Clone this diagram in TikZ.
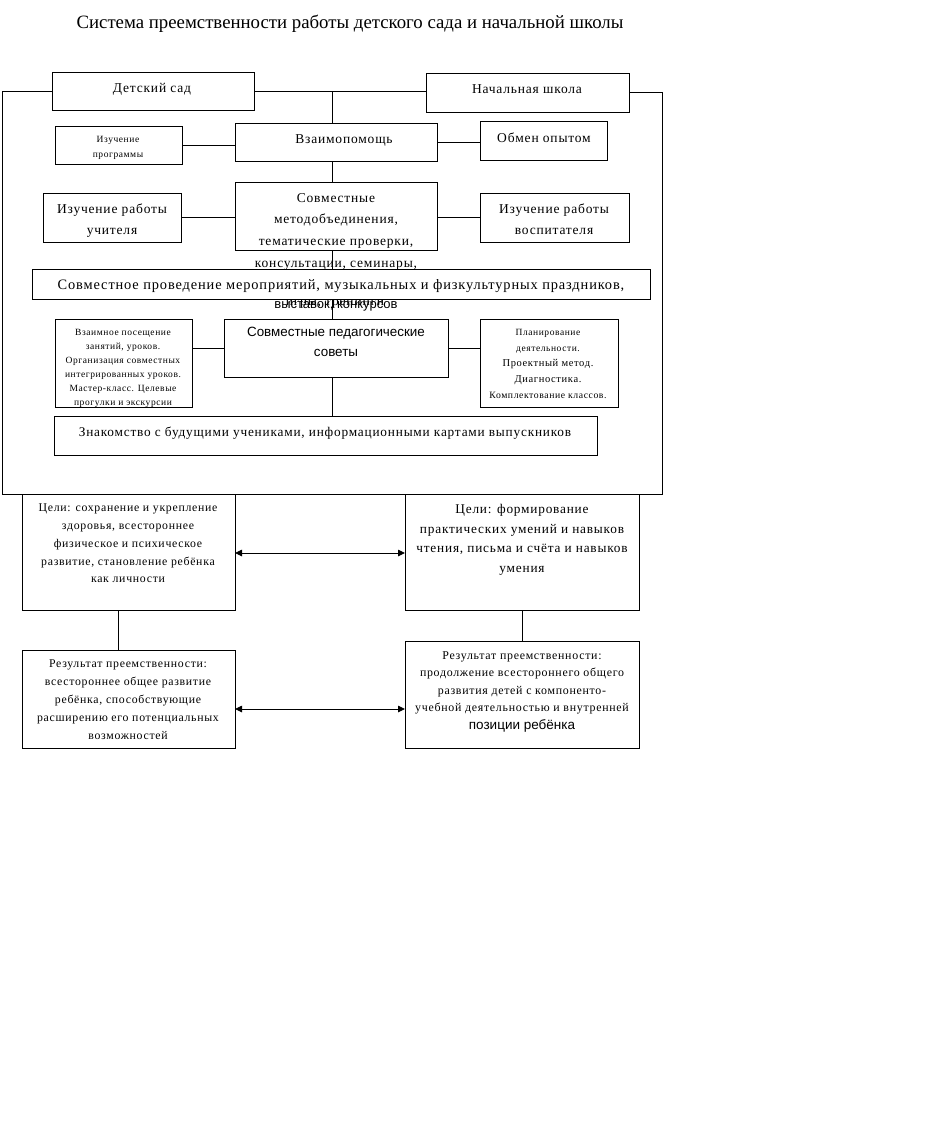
\documentclass[tikz,border=0pt]{standalone}
\usepackage{fontspec}
\setmainfont{Liberation Serif}[LetterSpace=6]
\newfontfamily\sansf{Liberation Sans}
\newfontfamily\titlef{Liberation Serif}
\usetikzlibrary{arrows.meta}
\newcommand\fs[2]{\fontsize{#1}{#2}\selectfont}
\newcommand\mkbox[5]{%
  \node[bx, minimum width={#4-#2}, minimum height={#5-#3}] (#1) at ({(#2+#4)/2},{(#3+#5)/2}) {};}
\begin{document}
\begin{tikzpicture}[x=1pt,y=-1pt,
  bx/.style={draw, line width=0.9pt, fill=white, inner sep=0pt, outer sep=0pt},
  tx/.style={inner sep=0pt, align=center},
  ml/.style={inner sep=0pt, align=center, anchor=north},
  ln/.style={line width=0.9pt},
  arr/.style={line width=0.9pt, {Triangle[length=7pt,width=6.5pt]}-{Triangle[length=7pt,width=6.5pt]}}]
\fill[white] (0,0) rectangle (939,1141);
\useasboundingbox (0,0) rectangle (939,1141);

\node[tx, font=\titlef\fs{18.8}{22}] (title) at (350,24) {Система преемственности работы детского сада и начальной школы};

\coordinate (spine) at (332,0);
\coordinate (L) at (2,0);
\coordinate (R) at (662,0);
\coordinate (B) at (0,494);
\coordinate (vl) at (118,0);
\coordinate (ay1) at (0,553);
\coordinate (ay2) at (0,709);

% frame lines
\mkbox{ds}{52}{72}{254}{110}
\mkbox{ns}{426}{73}{629}{112}
\draw[ln] (ds.west) -- (ds.west -| L) -- (B -| L) -- (B -| R) -- (ns.east -| R) -- (ns.east);

\node[tx, font=\fs{13.5}{16}] at (152,89) {Детский сад};
\node[tx, font=\fs{13.5}{16}] at (527,89) {Начальная школа};

\mkbox{ip}{55}{126}{182}{164}
\mkbox{vz}{235}{123}{437}{161}
\mkbox{ob}{480}{121}{607}{160}
\node[ml, font=\fs{9.5}{15}] at (118,136) {Изучение\\программы};
\node[tx, font=\fs{13.5}{16}] at (344,140) {Взаимопомощь};
\node[tx, font=\fs{13.5}{16}] at (544,137.5) {Обмен опытом};

\mkbox{iu}{43}{193}{181}{242}
\mkbox{sm}{235}{182}{437}{250}
\mkbox{iv}{480}{193}{629}{242}
\node[ml, font=\fs{13.5}{21}] at (112,204) {Изучение работы\\учителя};
\node[ml, font=\fs{13.5}{21}] at (554,204) {Изучение работы\\воспитателя};
\node[ml, font=\fs{13.5}{21.7}] (smt) at (336,193) {Совместные\\методобъединения,\\тематические проверки,\\консультации, семинары,};
\node[tx, font=\fs{13.5}{16}] (igr) at (335,304) {игры, тренинги};

\mkbox{sp}{32}{269}{650}{299}
\node[tx, font=\fs{14.4}{16}] at (341,286) {Совместное проведение мероприятий, музыкальных и физкультурных праздников,};
\node[tx, font=\sansf\fs{13}{16}] at (336,306) {выставок, конкурсов};

\mkbox{vp}{55}{319}{192}{407}
\mkbox{ps}{224}{319}{448}{377}
\mkbox{pl}{480}{319}{618}{407}
\node[ml, font=\fs{9.5}{14}] at (123,329) {Взаимное посещение\\занятий, уроков.\\Организация совместных\\интегрированных уроков.\\Мастер-класс. Целевые\\прогулки и экскурсии};
\node[ml, font=\sansf\fs{13.4}{20}] at (336,327) {Совместные педагогические\\советы};
\node[ml, font=\fs{9.5}{15.7}] at (548,329) {Планирование\\деятельности.\\\fs{10.5}{15.7}Проектный метод.\\\fs{10.5}{15.7}Диагностика.\\\fs{9.7}{15.7}Комплектование классов.};

\mkbox{zn}{54}{416}{597}{455}
\node[tx, font=\fs{13.3}{16}] at (325,433) {Знакомство с будущими учениками, информационными картами выпускников};

% spine connectors
\draw[ln] (ds.east) -- (ds.east -| ns.west);
\draw[ln] (ds.east -| spine) -- (vz.north -| spine);
\draw[ln] (vz.south -| spine) -- (sm.north -| spine);
\draw[ln] (sm.south -| spine) -- (sp.north -| spine);
\draw[ln] (sp.south -| spine) -- (ps.north -| spine);
\draw[ln] (ps.south -| spine) -- (zn.north -| spine);
\draw[ln] (ip.east) -- (ip.east -| vz.west);
\draw[ln] (vz.east) -- (vz.east -| ob.west);
\draw[ln] (iu.east) -- (iu.east -| sm.west);
\draw[ln] (sm.east |- iv.west) -- (iv.west);
\draw[ln] (vp.east |- 0,348) -- (ps.west |- 0,348);
\draw[ln] (ps.east |- 0,348) -- (pl.west |- 0,348);

% lower part
\mkbox{cl}{22}{494}{235}{610}
\mkbox{cr}{405}{494}{639}{610}
\mkbox{rl}{22}{650}{235}{748}
\mkbox{rr}{405}{641}{639}{748}
\node[ml, font=\fs{11.8}{17.7}] at (128,504) {Цели: сохранение и укрепление\\здоровья, всестороннее\\физическое и психическое\\развитие, становление ребёнка\\как личности};
\node[ml, font=\fs{13.3}{19.7}] at (522,504) {Цели: формирование\\практических умений и навыков\\чтения, письма и счёта и навыков\\умения};
\node[ml, font=\fs{11.8}{17.8}] at (128,660) {Результат преемственности:\\всестороннее общее развитие\\ребёнка, способствующие\\расширению его потенциальных\\возможностей};
\node[ml, font=\fs{11.9}{17.5}] at (522,651) {Результат преемственности:\\продолжение всестороннего общего\\развития детей с компоненто-\\учебной деятельностью и внутренней\\\sansf\fs{13.5}{17.5}позиции ребёнка};

\draw[arr] (cl.east |- ay1) -- (cr.west |- ay1);
\draw[arr] (rl.east |- ay2) -- (rr.west |- ay2);
\draw[ln] (cl.south -| vl) -- (rl.north -| vl);
\draw[ln] (cr.south) -- (rr.north);
\end{tikzpicture}
\end{document}
